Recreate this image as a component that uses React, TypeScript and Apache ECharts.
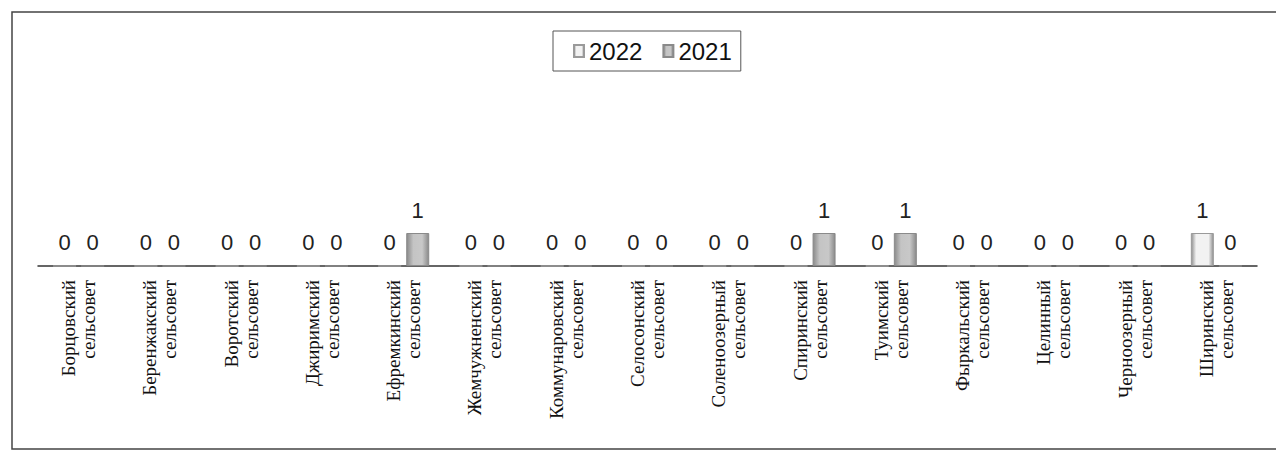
import React, { useEffect, useRef } from "react";
import * as echarts from "echarts";

const categories: string[] = [
  "Борцовский\nсельсовет",
  "Беренжакский\nсельсовет",
  "Воротский\nсельсовет",
  "Джиримский\nсельсовет",
  "Ефремкинский\nсельсовет",
  "Жемчужненский\nсельсовет",
  "Коммунаровский\nсельсовет",
  "Селосонский\nсельсовет",
  "Соленоозерный\nсельсовет",
  "Спиринский\nсельсовет",
  "Туимский\nсельсовет",
  "Фыркальский\nсельсовет",
  "Целинный\nсельсовет",
  "Черноозерный\nсельсовет",
  "Ширинский\nсельсовет",
];

const seriesNames: string[] = ["2022", "2021"];
const values2022: number[] = [0, 0, 0, 0, 0, 0, 0, 0, 0, 0, 0, 0, 0, 0, 1];
const values2021: number[] = [0, 0, 0, 0, 1, 0, 0, 0, 0, 1, 1, 0, 0, 0, 0];

const fill2022 = new echarts.graphic.LinearGradient(0, 0, 1, 0, [
  { offset: 0, color: "#8f8f8f" },
  { offset: 0.22, color: "#f2f2f2" },
  { offset: 0.78, color: "#f2f2f2" },
  { offset: 1, color: "#8f8f8f" },
]);
const fill2021 = new echarts.graphic.LinearGradient(0, 0, 1, 0, [
  { offset: 0, color: "#8a8a8a" },
  { offset: 0.3, color: "#c4c4c4" },
  { offset: 0.7, color: "#c8c8c8" },
  { offset: 1, color: "#8a8a8a" },
]);

export default function App() {
  const ref = useRef<HTMLDivElement>(null);
  useEffect(() => {
    if (!ref.current) return;
    const chart = echarts.init(ref.current, undefined, { renderer: "svg" });
    const labelCfg = {
      show: true,
      position: "top" as const,
      distance: 12,
      color: "#222",
      fontFamily: "Liberation Sans",
      fontSize: 22,
    };
    chart.setOption({
      animation: false,
      backgroundColor: "#ffffff",
      graphic: [
        {
          type: "rect",
          shape: { x: 12, y: 12, width: 1300, height: 437 },
          style: { fill: "none", stroke: "#444", lineWidth: 1.5 },
          silent: true,
        },
      ],
      legend: {
        left: 553,
        top: 31,
        padding: [8, 9, 8, 20],
        itemGap: 20,
        itemWidth: 10,
        itemHeight: 12,
        borderColor: "#555",
        borderWidth: 1,
        icon: "rect",
        textStyle: { fontFamily: "Liberation Sans", fontSize: 24, color: "#111" },
        data: seriesNames,
      },
      grid: { left: 38, right: 19, top: 233, bottom: 184, containLabel: false },
      xAxis: {
        type: "category",
        data: categories,
        axisLine: { show: true, lineStyle: { color: "#333", width: 1.5 } },
        axisTick: { show: false },
        axisLabel: {
          rotate: 90,
          interval: 0,
          margin: 14,
          color: "#111",
          fontFamily: "Liberation Serif",
          fontSize: 19,
          lineHeight: 20,
        },
      },
      yAxis: { type: "value", min: 0, max: 1, show: false },
      series: [
        {
          name: seriesNames[0],
          type: "bar",
          data: values2022,
          barWidth: 23,
          barGap: "22%",
          itemStyle: { color: fill2022, borderColor: "#9a9a9a", borderWidth: 1 },
          label: labelCfg,
        },
        {
          name: seriesNames[1],
          type: "bar",
          data: values2021,
          barWidth: 23,
          itemStyle: { color: fill2021, borderColor: "#8a8a8a", borderWidth: 1 },
          label: labelCfg,
        },
      ],
    });
    return () => chart.dispose();
  }, []);
  return (
    <div
      ref={ref}
      style={{ position: "fixed", left: 0, top: 0, width: 1276, height: 450 }}
    />
  );
}
